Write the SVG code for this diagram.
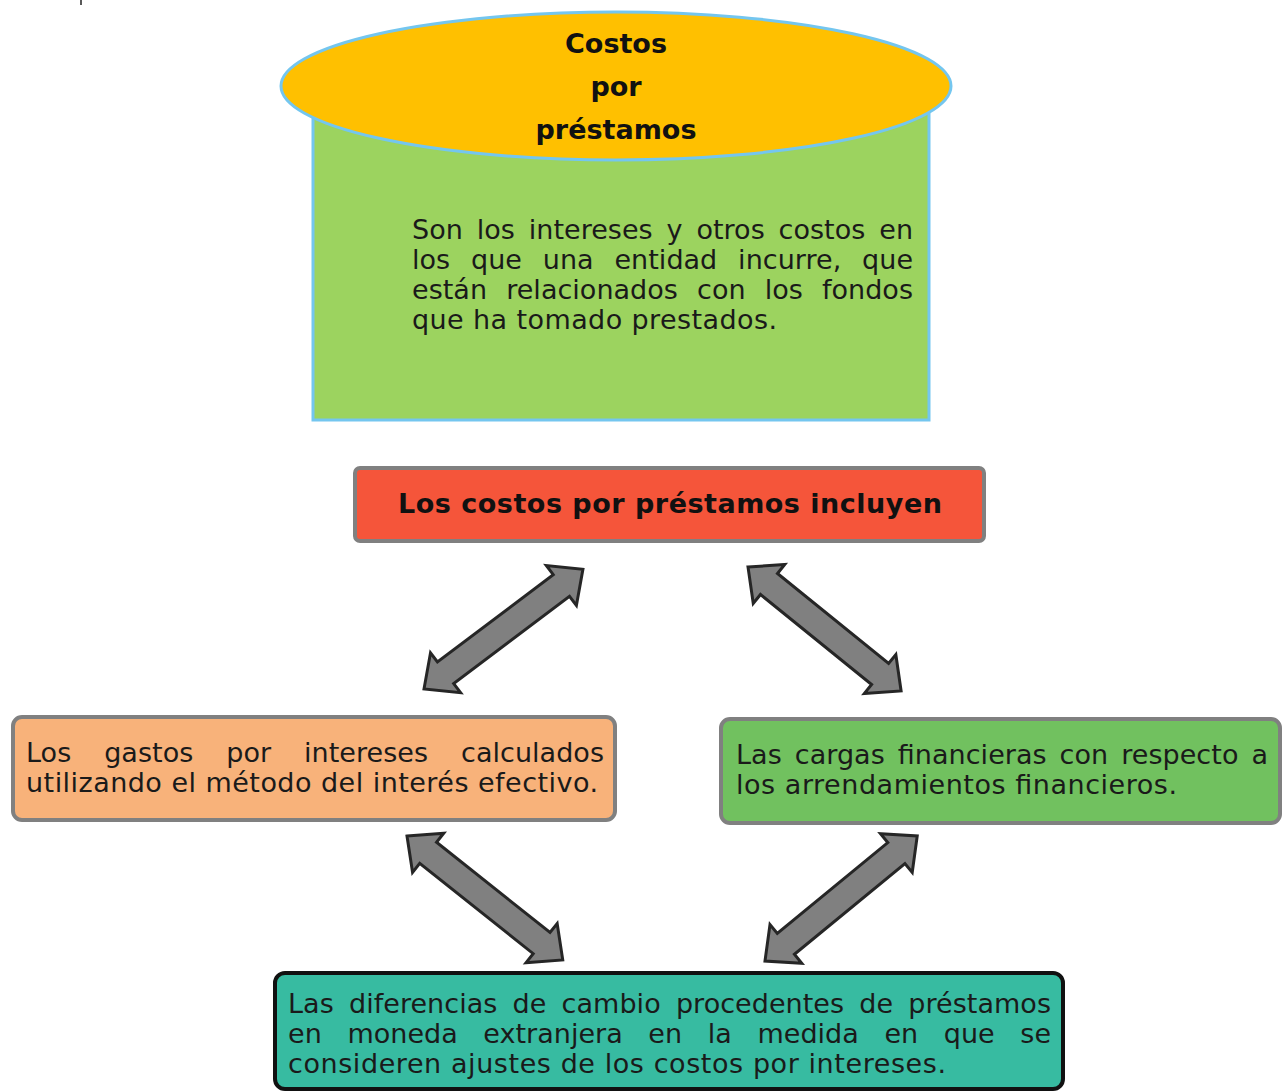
<svg xmlns="http://www.w3.org/2000/svg" width="1285" height="1091" viewBox="0 0 1285 1091">
  <style>
    .body { font-family: "DejaVu Sans", Verdana, sans-serif; font-size: 27px; fill: #1a1a1a; }
    .bold { font-family: "DejaVu Sans", Verdana, sans-serif; font-size: 27px; font-weight: bold; fill: #111111; }
    .arrow { fill: #808080; stroke: #262626; stroke-width: 3; stroke-linejoin: miter; }
    .box { stroke: #808080; stroke-width: 4; }
  </style>
  <rect x="0" y="0" width="1285" height="1091" fill="#ffffff"/>
  <line x1="81" y1="0" x2="81" y2="5" stroke="#222222" stroke-width="1.5"/>

  <g id="costos-por-prestamos">
    <rect x="313" y="100" width="616" height="320" fill="#9cd35f" stroke="#74c6ef" stroke-width="3"/>
    <ellipse cx="616" cy="86" rx="335" ry="74" fill="#ffc000" stroke="#74c6ef" stroke-width="3"/>
    <text class="bold" x="616" y="53" text-anchor="middle">Costos</text>
    <text class="bold" x="616" y="96" text-anchor="middle">por</text>
    <text class="bold" x="616" y="139" text-anchor="middle">préstamos</text>
    <text class="body" x="412" y="239" word-spacing="5.2" textLength="501" lengthAdjust="spacing">Son los intereses y otros costos en</text>
    <text class="body" x="412" y="269" word-spacing="12.2" textLength="501" lengthAdjust="spacing">los que una entidad incurre, que</text>
    <text class="body" x="412" y="299" word-spacing="10.5" textLength="501" lengthAdjust="spacing">están relacionados con los fondos</text>
    <text class="body" x="412" y="329" textLength="365" lengthAdjust="spacing">que ha tomado prestados.</text>
  </g>

  <g id="incluyen">
    <rect x="355" y="468" width="629" height="73" rx="5" fill="#f5553a" class="box"/>
    <text class="bold" x="398" y="513" textLength="544" lengthAdjust="spacing">Los costos por préstamos incluyen</text>
  </g>

  <g id="gastos-intereses">
    <rect x="13" y="717" width="602" height="103" rx="9" fill="#f8b27a" class="box"/>
    <text class="body" x="26" y="762" word-spacing="24.3" textLength="578" lengthAdjust="spacing">Los gastos por intereses calculados</text>
    <text class="body" x="26" y="792" textLength="572" lengthAdjust="spacing">utilizando el método del interés efectivo.</text>
  </g>

  <g id="cargas-financieras">
    <rect x="721" y="719" width="559" height="104" rx="9" fill="#71c15f" class="box"/>
    <text class="body" x="736" y="764" word-spacing="4.4" textLength="532" lengthAdjust="spacing">Las cargas financieras con respecto a</text>
    <text class="body" x="736" y="794" textLength="441" lengthAdjust="spacing">los arrendamientos financieros.</text>
  </g>

  <g id="diferencias-cambio">
    <rect x="275" y="973" width="788" height="116" rx="10" fill="#37bba1" stroke="#111111" stroke-width="4"/>
    <text class="body" x="288" y="1013" word-spacing="6.6" textLength="763" lengthAdjust="spacing">Las diferencias de cambio procedentes de préstamos</text>
    <text class="body" x="288" y="1043" word-spacing="17" textLength="763" lengthAdjust="spacing">en moneda extranjera en la medida en que se</text>
    <text class="body" x="288" y="1073" textLength="658" lengthAdjust="spacing">consideren ajustes de los costos por intereses.</text>
  </g>

  <g id="connectors">
    <path class="arrow" transform="translate(424,689) rotate(-37)" d="M0,0 L27,-25 L27,-13.5 L172,-13.5 L172,-25 L199,0 L172,25 L172,13.5 L27,13.5 L27,25 Z"/>
    <path class="arrow" transform="translate(748,567) rotate(39)" d="M0,0 L27,-25 L27,-13.5 L170,-13.5 L170,-25 L197,0 L170,25 L170,13.5 L27,13.5 L27,25 Z"/>
    <path class="arrow" transform="translate(407,836) rotate(38.5)" d="M0,0 L27,-25 L27,-13.5 L172,-13.5 L172,-25 L199,0 L172,25 L172,13.5 L27,13.5 L27,25 Z"/>
    <path class="arrow" transform="translate(765,961) rotate(-39.4)" d="M0,0 L27,-25 L27,-13.5 L170,-13.5 L170,-25 L197,0 L170,25 L170,13.5 L27,13.5 L27,25 Z"/>
  </g>
</svg>
